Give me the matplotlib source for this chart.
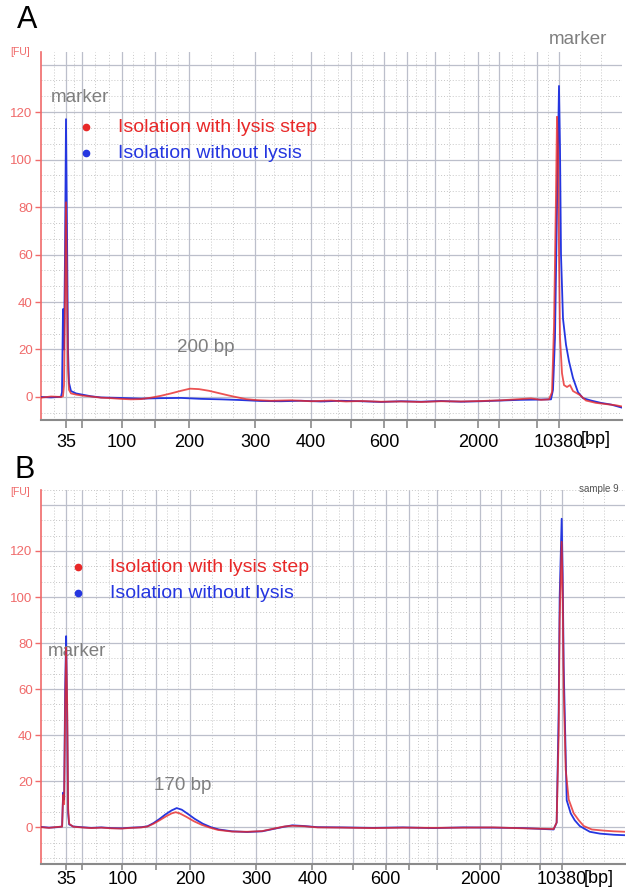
import numpy as np
import matplotlib
matplotlib.use("Agg")
import matplotlib.pyplot as plt

plt.rcParams['font.family'] = ['Liberation Sans', 'DejaVu Sans']

# x is migration position (arbitrary units), ticks carry the bp sizes
tick_pos = [25, 81, 148, 214, 270, 343, 437, 518]
tick_lab = ["35", "100", "200", "300", "400", "600", "2000", "10380"]
minor_pos = [41, 114, 310, 366, 394, 458, 496]

# panel A
a_red_x = [0, 10, 20, 22, 23, 24, 25, 26, 27, 28, 30, 35, 41, 50, 60, 70, 80, 90, 100,
           110, 120, 130, 140, 149, 158, 168, 178, 188, 198, 205, 215, 230, 250, 270,
           290, 305, 320, 340, 360, 380, 400, 420, 440, 460, 475, 490, 500, 508, 511,
           513, 515, 516, 517, 518, 519, 521, 523, 526, 529, 532, 539, 545, 555, 565,
           575, 581]
a_red_y = [-0.3, 0.2, 0.0, 0.3, 5, 40, 82, 45, 12, 3, 1.5, 1.0, 0.6, 0.2, -0.3, -0.5,
           -0.8, -1.0, -0.9, -0.3, 0.5, 1.5, 2.6, 3.5, 3.3, 2.6, 1.6, 0.6, -0.3, -0.9,
           -1.3, -1.6, -1.4, -1.8, -1.5, -1.9, -1.7, -2.0, -1.9, -2.1, -1.8, -1.9, -1.7,
           -1.4, -1.0, -0.6, -1.2, -1.0, 2, 30, 85, 118, 105, 60, 25, 10, 5, 4.2, 5.0,
           2.5, 0.8, -1.5, -2.5, -3.0, -3.5, -4.0]
a_blue_x = [0, 10, 20, 21, 22, 23, 24, 25, 26, 27, 28, 30, 35, 41, 50, 60, 80, 100, 120,
            140, 150, 160, 180, 200, 220, 240, 260, 280, 300, 320, 340, 360, 380, 400,
            420, 440, 460, 480, 500, 510, 512, 514, 516, 518, 519, 520, 522, 525, 528,
            532, 537, 542, 550, 560, 570, 581]
a_blue_y = [0.0, -0.2, 0.1, 2, 37, 20, 60, 117, 70, 20, 6, 2.5, 1.5, 1.0, 0.3, -0.2,
            -0.4, -0.7, -0.5, -0.4, -0.6, -0.8, -1.0, -1.3, -1.7, -1.8, -1.6, -1.9, -1.6,
            -1.8, -2.1, -1.8, -2.0, -1.7, -2.0, -1.8, -1.5, -1.2, -1.1, -1.0, 3, 25, 80,
            131, 105, 60, 33, 22, 15, 8, 2, -0.5, -1.5, -2.5, -3.2, -4.5]

# panel B
b_red_x = [0, 8, 16, 21, 22, 23, 24, 25, 26, 27, 28, 32, 40, 50, 60, 70, 80, 90, 100,
           106, 112, 118, 124, 130, 134, 138, 145, 152, 160, 168, 176, 190, 205, 220,
           232, 242, 250, 262, 275, 300, 330, 360, 390, 420, 450, 480, 500, 510, 513,
           515, 516, 518, 519, 520, 522, 525, 530, 535, 540, 548, 560, 570, 581]
b_red_y = [0.0, -0.3, 0.1, 0.2, 14, 10, 50, 78, 55, 8, 1.5, 0.2, -0.1, -0.4, -0.2, -0.5,
           -0.6, -0.3, -0.1, 0.3, 1.5, 3.0, 4.6, 6.0, 6.5, 6.0, 4.4, 2.6, 1.0, -0.2, -1.2,
           -1.9, -2.0, -1.7, -0.6, 0.3, 0.6, 0.4, -0.1, -0.2, -0.4, -0.2, -0.3, -0.2,
           -0.1, -0.5, -0.7, -0.8, 2, 40, 90, 124, 100, 60, 25, 12, 6, 3, 0.5, -1.0,
           -1.5, -1.8, -2.0]
b_blue_x = [0, 8, 16, 21, 22, 23, 24, 25, 26, 27, 28, 32, 40, 50, 60, 70, 80, 90, 100,
            106, 112, 118, 124, 130, 135, 140, 146, 153, 161, 169, 177, 190, 205, 220,
            232, 242, 250, 262, 275, 300, 330, 360, 390, 420, 450, 480, 500, 510, 513,
            515, 516, 518, 519, 520, 523, 527, 531, 536, 546, 556, 570, 581]
b_blue_y = [0.1, -0.2, 0.0, 0.3, 15, 12, 60, 83, 50, 6, 1.2, 0.3, 0.0, -0.3, -0.1, -0.4,
            -0.5, -0.2, 0.0, 0.4, 1.8, 3.6, 5.6, 7.3, 8.3, 7.6, 5.8, 3.6, 1.5, 0.0, -1.0,
            -1.8, -2.1, -1.8, -0.7, 0.2, 0.8, 0.5, 0.0, -0.1, -0.3, -0.1, -0.4, -0.1,
            -0.2, -0.4, -0.8, -1.0, 2, 50, 100, 134, 110, 70, 11.7, 6, 3, 0.5, -2.0,
            -2.8, -3.3, -3.5]

RED = '#e82828'
BLUE = '#2536e0'
AXRED = '#f06a6a'
GREY = '#7f7f7f'

fig = plt.figure(figsize=(6.26, 8.91), dpi=100)
axA = fig.add_axes([41/626, 1-420/891, 581/626, 368/891])
axB = fig.add_axes([41/626, 1-864/891, 584/626, 374/891])


def style(ax, ylo, yhi, tlen, tpad):
    ax.set_xlim(0, 581)
    ax.set_ylim(ylo, yhi)
    solid = sorted(tick_pos + minor_pos)
    edges = [0] + solid + [581]
    for a, b in zip(edges[:-1], edges[1:]):
        step = (b - a) / 3 if b - a > 25 else (b - a) / 2
        d = a + step
        while d < b - 2:
            ax.axvline(d, color='#c8c8c8', lw=0.7, ls=(0, (1, 2)), zorder=0)
            d += step
    for s in solid:
        ax.axvline(s, color='#bcbfcb', lw=0.9, zorder=0)
    for y in np.arange(-20, 160, 20):
        ax.axhline(y, color='#bcbfcb', lw=0.9, zorder=0)
        for k in (1, 2):
            ax.axhline(y + k * 20 / 3, color='#c8c8c8', lw=0.7,
                       ls=(0, (1, 2)), zorder=0)
    for s in ('top', 'right'):
        ax.spines[s].set_visible(False)
    ax.spines['left'].set_color(AXRED)
    ax.spines['left'].set_linewidth(1.2)
    ax.spines['bottom'].set_color('#8a8a8a')
    ax.spines['bottom'].set_linewidth(1.5)
    ax.set_yticks(range(0, 140, 20))
    ax.tick_params(axis='y', colors=AXRED, labelsize=9.5, length=4, width=1,
                   labelcolor=AXRED, pad=2)
    ax.set_xticks(tick_pos)
    ax.set_xticklabels(tick_lab)
    ax.set_xticks(minor_pos, minor=True)
    ax.tick_params(axis='x', which='both', colors='#8a8a8a', labelcolor='black',
                   labelsize=13, length=tlen, width=1.2, pad=tpad)
    ax.tick_params(axis='x', which='minor', labelbottom=False)


style(axA, -9.7, 145.3, 6, 4)
style(axB, -16, 146.5, 4, 1)

axA.plot(a_blue_x, a_blue_y, color=BLUE, lw=1.3, zorder=3)
axA.plot(a_red_x, a_red_y, color=RED, lw=1.3, alpha=0.8, zorder=4)
axB.plot(b_blue_x, b_blue_y, color=BLUE, lw=1.3, zorder=3)
axB.plot(b_red_x, b_red_y, color=RED, lw=1.3, alpha=0.8, zorder=4)

# labels
axA.text(39, 126, 'marker', color=GREY, fontsize=13.5, ha='center', va='center')
axA.text(537, 150.5, 'marker', color=GREY, fontsize=13.5, ha='center', va='center',
         clip_on=False)
axA.text(165, 21, '200 bp', color=GREY, fontsize=13.5, ha='center', va='center')
axA.plot([45], [113.7], 'o', color=RED, ms=4.5)
axA.plot([45], [102.7], 'o', color=BLUE, ms=4.5)
axA.text(77, 113.7, 'Isolation with lysis step', color=RED, fontsize=14, va='center')
axA.text(77, 102.7, 'Isolation without lysis', color=BLUE, fontsize=14, va='center')

axB.text(36, 76.5, 'marker', color=GREY, fontsize=13.5, ha='center', va='center')
axB.text(141, 18.3, '170 bp', color=GREY, fontsize=13.5, ha='center', va='center')
axB.plot([37], [113], 'o', color=RED, ms=4.5)
axB.plot([37], [101.7], 'o', color=BLUE, ms=4.5)
axB.text(69, 113, 'Isolation with lysis step', color=RED, fontsize=14, va='center')
axB.text(69, 101.7, 'Isolation without lysis', color=BLUE, fontsize=14, va='center')

axA.text(540, -0.031, '[bp]', transform=axA.get_xaxis_transform(), fontsize=13,
         va='top', ha='left')
axB.text(540, -0.015, '[bp]', transform=axB.get_xaxis_transform(), fontsize=13,
         va='top', ha='left')

fig.text(20/626, 1-52/891, '[FU]', color=AXRED, fontsize=7.5, ha='center', va='center')
fig.text(20/626, 1-492/891, '[FU]', color=AXRED, fontsize=7.5, ha='center', va='center')
fig.text(599/626, 1-489/891, 'sample 9', color='#555555', fontsize=7, ha='center',
         va='center')
fig.text(27/626, 1-20/891, 'A', fontsize=22, ha='center', va='center')
fig.text(25/626, 1-470/891, 'B', fontsize=22, ha='center', va='center')

fig.savefig('out.png', dpi=100)
